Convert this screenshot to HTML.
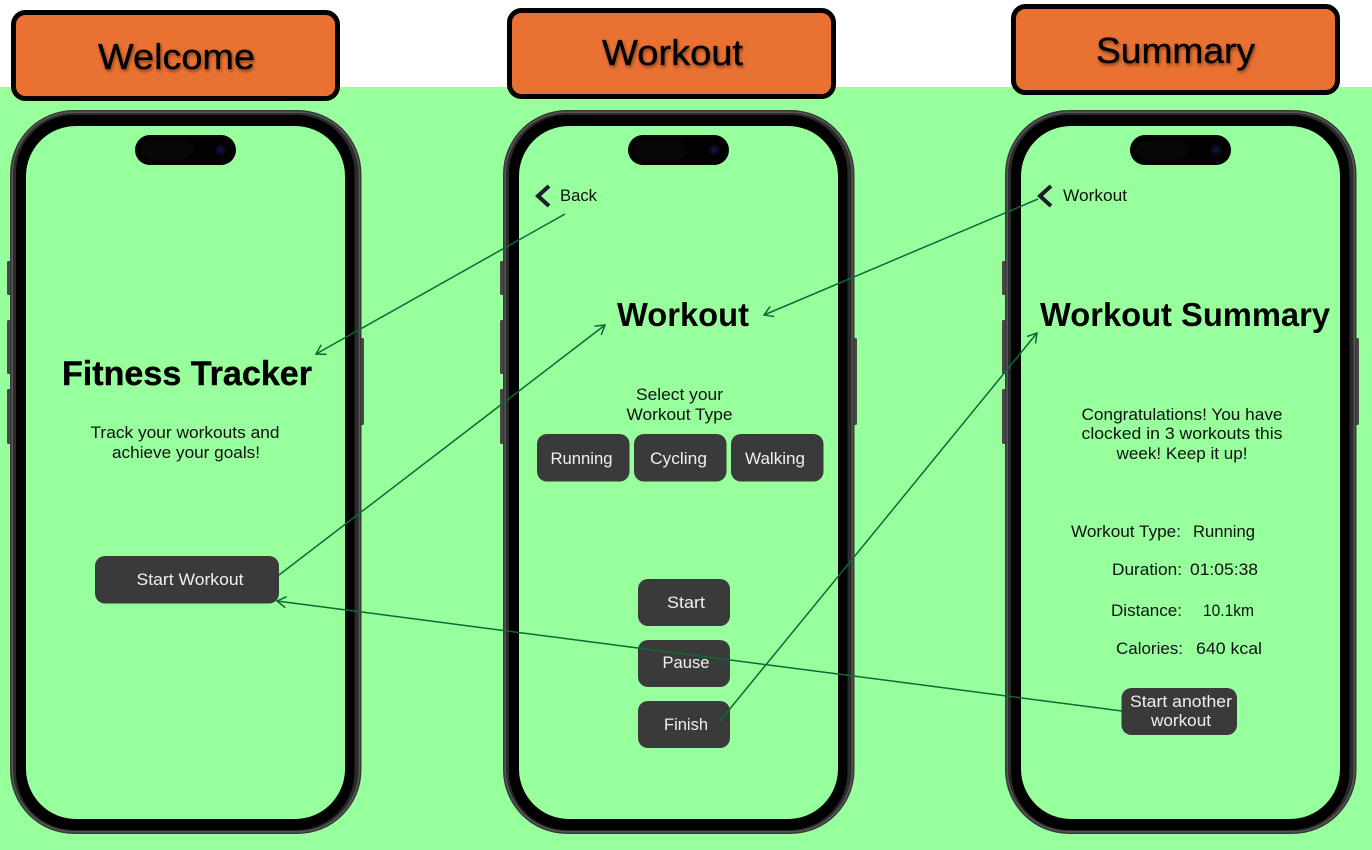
<!DOCTYPE html>
<html>
<head>
<meta charset="utf-8">
<style>
html,body{margin:0;padding:0;background:#fff;width:1372px;height:850px;overflow:hidden}
svg{display:block}
text{font-family:"Liberation Sans",sans-serif}
.h{font-size:36px;fill:#000;text-anchor:middle;stroke:#000;stroke-width:.35}
.t{font-weight:bold;fill:#000}
.b{font-size:16.5px;fill:#111;text-anchor:middle}
.bl{font-size:16.5px;fill:#fff;fill-opacity:.92;text-anchor:middle}
.l{font-size:16.5px;fill:#111}
.c{stroke:#0a6a36;stroke-width:1.5;fill:none}
.btn{fill:#3a3a3a}
</style>
</head>
<body>
<svg width="1372" height="850" viewBox="0 0 1372 850" xmlns="http://www.w3.org/2000/svg">
<defs>
<filter id="s" x="-10%" y="-20%" width="120%" height="150%"><feDropShadow dx="1" dy="2" stdDeviation="1.5" flood-color="#000" flood-opacity=".45"/></filter>
<g id="phone">
<rect x="7" y="261" width="4" height="34" rx="1.5" fill="#474747"/>
<rect x="7" y="320" width="4" height="54" rx="1.5" fill="#474747"/>
<rect x="7" y="389" width="4" height="55" rx="1.5" fill="#474747"/>
<rect x="360" y="338" width="4" height="87" rx="1.5" fill="#474747"/>
<rect x="10" y="110" width="351.500" height="724" rx="64" fill="#383838"/>
<rect x="11.500" y="111.500" width="348.500" height="721" rx="62.500" fill="#565656"/>
<rect x="13" y="113" width="345.500" height="718" rx="61" fill="#2b2b2b"/>
<rect x="16" y="115" width="338.500" height="715" rx="58" fill="#000"/>
<rect x="26" y="126" width="319" height="693" rx="50" fill="#97ff9c"/>
<rect x="135" y="135" width="101" height="30" rx="15" fill="#020202"/>
<rect x="141" y="141" width="52" height="18" rx="9" fill="#070707"/>
<circle cx="221" cy="150" r="5.500" fill="#0a0a1c"/>
<circle cx="221" cy="150" r="2.500" fill="#13134a"/>
</g>
<marker id="a" markerWidth="14" markerHeight="14" refX="11" refY="7" orient="auto" markerUnits="userSpaceOnUse" viewBox="0 0 14 14"><path d="M2 1.500 L11 7 L2 12.500" fill="none" stroke="#0a6a36" stroke-width="1.5"/></marker>
</defs>

<rect x="0" y="87" width="1372" height="763" fill="#97ff9c"/>

<rect x="13.500" y="12.500" width="324" height="86" rx="12" fill="#e97132" stroke="#000" stroke-width="5"/>
<rect x="509.500" y="10.500" width="324" height="86" rx="12" fill="#e97132" stroke="#000" stroke-width="5"/>
<rect x="1013.500" y="6.500" width="324" height="86" rx="12" fill="#e97132" stroke="#000" stroke-width="5"/>
<text class="h" x="176.500" y="69" textLength="157" lengthAdjust="spacingAndGlyphs" filter="url(#s)">Welcome</text>
<text class="h" x="672.500" y="65" textLength="141" lengthAdjust="spacingAndGlyphs" filter="url(#s)">Workout</text>
<text class="h" x="1175.500" y="63" textLength="159" lengthAdjust="spacingAndGlyphs" filter="url(#s)">Summary</text>

<use href="#phone"/>
<use href="#phone" x="493"/>
<use href="#phone" x="995"/>

<!-- Screen 1 -->
<text class="t" x="62" y="385" font-size="34" textLength="250" lengthAdjust="spacingAndGlyphs" stroke="#000" stroke-width=".4">Fitness Tracker</text>
<text class="b" x="185" y="438" textLength="189" lengthAdjust="spacingAndGlyphs">Track your workouts and</text>
<text class="b" x="186" y="458" textLength="148" lengthAdjust="spacingAndGlyphs">achieve your goals!</text>
<rect class="btn" x="95" y="556" width="184" height="47.500" rx="10"/>
<text class="bl" x="190" y="585" textLength="107" lengthAdjust="spacingAndGlyphs">Start Workout</text>

<!-- Screen 2 -->
<path d="M549 186 L538 196 L549 206" fill="none" stroke="#1d1d2b" stroke-width="4"/>
<text class="l" x="560" y="201" textLength="37" lengthAdjust="spacingAndGlyphs">Back</text>
<text class="t" x="617" y="326" font-size="33" textLength="132" lengthAdjust="spacingAndGlyphs">Workout</text>
<text class="b" x="679.500" y="400" textLength="87" lengthAdjust="spacingAndGlyphs">Select your</text>
<text class="b" x="679.500" y="420" textLength="106" lengthAdjust="spacingAndGlyphs">Workout Type</text>
<rect class="btn" x="537" y="434" width="92.500" height="47.500" rx="10"/>
<rect class="btn" x="634" y="434" width="92.500" height="47.500" rx="10"/>
<rect class="btn" x="731" y="434" width="92.500" height="47.500" rx="10"/>
<text class="bl" x="581.500" y="464" textLength="62" lengthAdjust="spacingAndGlyphs">Running</text>
<text class="bl" x="678.500" y="464" textLength="57" lengthAdjust="spacingAndGlyphs">Cycling</text>
<text class="bl" x="775" y="464" textLength="60" lengthAdjust="spacingAndGlyphs">Walking</text>
<rect class="btn" x="638" y="579" width="92" height="47" rx="10"/>
<rect class="btn" x="638" y="640" width="92" height="47" rx="10"/>
<rect class="btn" x="638" y="701" width="92" height="47" rx="10"/>
<text class="bl" x="686" y="608" textLength="38" lengthAdjust="spacingAndGlyphs">Start</text>
<text class="bl" x="686" y="668" textLength="47" lengthAdjust="spacingAndGlyphs">Pause</text>
<text class="bl" x="686" y="730" textLength="44" lengthAdjust="spacingAndGlyphs">Finish</text>

<!-- Screen 3 -->
<path d="M1051 186 L1040 196 L1051 206" fill="none" stroke="#1d1d2b" stroke-width="4"/>
<text class="l" x="1063" y="201" textLength="64" lengthAdjust="spacingAndGlyphs">Workout</text>
<text class="t" x="1040" y="326" font-size="33" textLength="290" lengthAdjust="spacingAndGlyphs">Workout Summary</text>
<text class="b" x="1182" y="420" textLength="201" lengthAdjust="spacingAndGlyphs">Congratulations! You have</text>
<text class="b" x="1182" y="439" textLength="201" lengthAdjust="spacingAndGlyphs">clocked in 3 workouts this</text>
<text class="b" x="1182" y="459" textLength="131" lengthAdjust="spacingAndGlyphs">week! Keep it up!</text>
<text class="l" x="1071" y="537" textLength="110" lengthAdjust="spacingAndGlyphs">Workout Type:</text>
<text class="l" x="1193" y="537" textLength="62" lengthAdjust="spacingAndGlyphs">Running</text>
<text class="l" x="1112" y="575" textLength="70" lengthAdjust="spacingAndGlyphs">Duration:</text>
<text class="l" x="1190" y="575" textLength="68" lengthAdjust="spacingAndGlyphs">01:05:38</text>
<text class="l" x="1111" y="616" textLength="71" lengthAdjust="spacingAndGlyphs">Distance:</text>
<text class="l" x="1203" y="616" textLength="51" lengthAdjust="spacingAndGlyphs">10.1km</text>
<text class="l" x="1116" y="654" textLength="67" lengthAdjust="spacingAndGlyphs">Calories:</text>
<text class="l" x="1196" y="654" textLength="66" lengthAdjust="spacingAndGlyphs">640 kcal</text>
<rect class="btn" x="1121.500" y="688" width="115.500" height="47" rx="10"/>
<text class="bl" x="1181" y="707" textLength="102" lengthAdjust="spacingAndGlyphs">Start another</text>
<text class="bl" x="1181" y="726" textLength="60" lengthAdjust="spacingAndGlyphs">workout</text>

<!-- Connectors -->
<line class="c" x1="565" y1="214" x2="316" y2="354" marker-end="url(#a)"/>
<line class="c" x1="279" y1="575" x2="605" y2="325" marker-end="url(#a)"/>
<line class="c" x1="1038" y1="199" x2="764" y2="315" marker-end="url(#a)"/>
<line class="c" x1="720" y1="721" x2="1037" y2="333" marker-end="url(#a)"/>
<line class="c" x1="1122" y1="711" x2="277" y2="601" marker-end="url(#a)"/>
</svg>
</body>
</html>
